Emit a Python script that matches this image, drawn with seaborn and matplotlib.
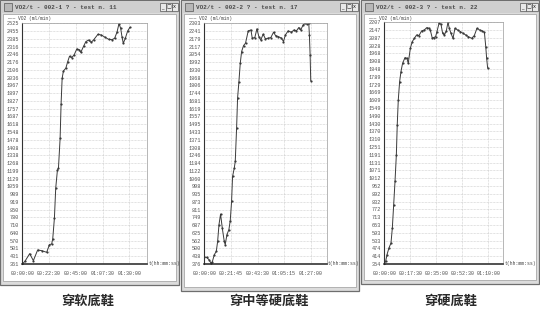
import numpy as np
import pandas as pd
import matplotlib
matplotlib.use("Agg")
import matplotlib.pyplot as plt
from matplotlib.patches import Rectangle
import seaborn as sns

# ---------------- data ----------------
titles = ["VO2/t - 002-1 ? - test n. 11",
          "VO2/t - 002-2 ? - test n. 17",
          "VO2/t - 002-3 ? - test n. 22"]
captions = ["穿软底鞋", "穿中等硬底鞋", "穿硬底鞋"]

xticks1 = ["00:00:00", "00:22:30", "00:45:00", "01:07:30", "01:30:00"]
xticks2 = ["00:00:00", "00:21:45", "00:43:30", "01:05:15", "01:27:00"]
xticks3 = ["00:00:00", "00:17:30", "00:35:00", "00:52:30", "01:10:00"]

yrange1 = (361, 2525)
yrange2 = (376, 2303)
yrange3 = (354, 2207)

# time in minutes, VO2 in ml/min
t1 = [0, 2.2, 6.2, 9.3, 12.9, 16.3, 20.5, 22.8, 24.7, 25.6, 27.0, 28.1, 29.5,
      30.4, 31.8, 32.6, 33.5, 34.6, 36.6, 38.2, 39.7, 41.6, 43.6, 45.8, 47.8,
      49.2, 51.5, 53.4, 55.7, 57.9, 59.9, 63.6, 66.4, 69.2, 72.6, 75.4, 77.6,
      79.6, 81.3, 82.7, 83.8, 84.9, 86.6, 88.6, 90.5]
v1 = [361, 385, 454, 391, 487, 481, 466, 535, 541, 588, 774, 1043, 1202,
      1223, 1492, 1798, 2031, 2097, 2121, 2181, 2229, 2217, 2241, 2294, 2288,
      2264, 2318, 2360, 2375, 2354, 2375, 2426, 2420, 2402, 2381, 2378, 2390,
      2444, 2522, 2480, 2405, 2345, 2390, 2456, 2489]

t2 = [0, 1.9, 3.8, 5.4, 6.5, 8.2, 9.8, 10.9, 12.0, 13.3, 14.7, 16.3, 17.1,
      18.5, 20.1, 21.2, 22.3, 23.1, 24.5, 25.3, 26.4, 27.2, 28.3, 29.4, 30.5,
      32.1, 33.7, 35.9, 38.1, 39.2, 41.3, 43.0, 44.6, 46.2, 48.1, 50.0, 52.2,
      54.4, 56.6, 58.2, 60.4, 63.1, 64.7, 66.3, 68.5, 71.2, 73.4, 75.3, 77.2,
      78.8, 80.8, 82.7, 84.3, 85.4, 85.9, 86.5, 87.0]
v2 = [432, 429, 411, 384, 392, 451, 477, 557, 691, 776, 664, 557, 531,
      611, 651, 723, 877, 1077, 1144, 1197, 1464, 1704, 1837, 1984, 2077,
      2125, 2144, 2242, 2250, 2184, 2189, 2258, 2197, 2170, 2216, 2178, 2184,
      2189, 2232, 2205, 2197, 2184, 2157, 2210, 2242, 2232, 2250, 2242, 2269,
      2250, 2290, 2303, 2295, 2303, 2210, 2050, 1842]

t3 = [0, 0.9, 1.8, 3.1, 4.5, 5.4, 6.3, 7.2, 8.1, 8.7, 9.4, 10.3, 11.2, 12.3,
      13.9, 15.2, 16.1, 17.5, 18.8, 20.2, 21.7, 23.3, 25.1, 26.9, 28.5, 30.0,
      30.9, 32.3, 33.2, 34.5, 35.4, 36.8, 38.1, 39.2, 40.4, 41.7, 42.8, 43.7,
      44.8, 46.2, 47.5, 49.3, 51.1, 52.9, 54.7, 56.5, 58.7, 60.5, 62.3, 64.1,
      65.9, 67.3, 68.2, 68.8, 69.5]
v3 = [354, 374, 425, 476, 515, 630, 808, 987, 1191, 1421, 1612, 1752, 1829,
      1893, 1936, 1931, 1893, 2008, 2059, 2084, 2110, 2105, 2141, 2148, 2166,
      2161, 2148, 2084, 2090, 2097, 2136, 2199, 2192, 2123, 2110, 2141, 2207,
      2161, 2123, 2084, 2161, 2148, 2136, 2123, 2110, 2097, 2084, 2105, 2161,
      2148, 2141, 2130, 2021, 1931, 1855]

# ---------------- layout helpers ----------------
W, H = 540, 317
sns.set_style("white")
plt.rcParams['font.family'] = ['Liberation Mono', 'DejaVu Sans Mono']

fig = plt.figure(figsize=(W / 100, H / 100), dpi=100)
fig.patch.set_facecolor("white")


def fx(px):
    return px / W


def fy(py):
    return 1 - py / H


def rect(x0, y0, x1, y1, z=-5, **kw):
    r = Rectangle((fx(x0), fy(y1)), (x1 - x0) / W, (y1 - y0) / H,
                  transform=fig.transFigure, zorder=z, **kw)
    fig.add_artist(r)
    return r


def to_min(s):
    h, m, sec = [int(p) for p in s.split(":")]
    return h * 60 + m + sec / 60


windows = [(0, 0, 179, 285), (181, 0, 359, 291), (361, 0, 539, 284)]
axes_px = [(22.3, 23.3, 147, 264), (204.3, 23.3, 326.7, 264), (384.3, 22.3, 503, 264)]
caption_x = [88, 269, 451]
xmax_factor = [1.165, 1.15, 1.14]

data = [(t1, v1, xticks1, yrange1), (t2, v2, xticks2, yrange2), (t3, v3, xticks3, yrange3)]

for i in range(3):
    x0, y0, x1, y1 = windows[i]
    # window frame
    rect(x0, y0, x1, y1, z=-10, facecolor="#dcdcdc", edgecolor="#6e6e6e", lw=0.9)
    rect(x0 + 3, y0 + 14, x1 - 3, y1 - 4, z=-9, facecolor="white", edgecolor="#9a9a9a", lw=0.5)
    # title bar
    rect(x0 + 1, y0 + 1, x1 - 1, y0 + 13, z=-9, facecolor="#cfcfcf", edgecolor="none")
    rect(x0 + 4, y0 + 3, x0 + 12, y0 + 11, z=-8, facecolor="#b8b8b8", edgecolor="#555555", lw=0.5)
    fig.text(fx(x0 + 15), fy(y0 + 7.5), titles[i], fontsize=4.3, color="#4a4a4a",
             ha="left", va="center", fontweight="bold")
    for k, g in enumerate(["_", "□", "x"]):
        bx = x1 - 19 + k * 6
        rect(bx, y0 + 3, bx + 5.5, y0 + 11, z=-8, facecolor="#e8e8e8", edgecolor="#555555", lw=0.5)
        fig.text(fx(bx + 2.75), fy(y0 + 7), g, fontsize=3.6, color="#222222",
                 ha="center", va="center", family=["DejaVu Sans"])
    # legend label
    fig.text(fx(x0 + 7), fy(y0 + 18.5), "\u2014\u00b7\u2014 VO2 (ml/min)", fontsize=3.3,
             color="#444444", ha="left", va="center")

    # axes
    l, t, r, b = axes_px[i]
    ax = fig.add_axes([fx(l), fy(b), (r - l) / W, (b - t) / H])
    ax.set_facecolor("white")
    tt, vv, xt, (ymin, ymax) = data[i]
    df = pd.DataFrame({"t": tt, "vo2": vv})
    sns.lineplot(data=df, x="t", y="vo2", ax=ax, color="#3a3a3a", lw=0.7,
                 marker="o", markersize=1.6, markeredgewidth=0, sort=False)
    xpos = [to_min(s) for s in xt]
    ax.set_xlim(0, xpos[-1] * xmax_factor[i])
    ax.set_ylim(ymin, ymax)
    ax.set_xticks(xpos)
    ax.set_xticklabels(xt)
    yt = np.linspace(ymin, ymax, 32)
    ax.set_yticks(yt)
    ax.set_yticklabels([f"{int(round(y))}" for y in yt])
    ax.set_xlabel("")
    ax.set_ylabel("")
    ax.grid(True, linestyle=(0, (1.2, 1.4)), color="#b4b4b4", lw=0.4)
    ax.tick_params(axis="y", labelsize=3.7, length=1.5, width=0.4, pad=1, colors="#505050")
    ax.tick_params(axis="x", labelsize=3.6, length=2, width=0.4, pad=3, colors="#505050")
    for side in ["top", "right"]:
        ax.spines[side].set_color("#9a9a9a")
        ax.spines[side].set_linewidth(0.5)
    ax.spines["left"].set_color("#333333")
    ax.spines["left"].set_linewidth(0.8)
    ax.spines["bottom"].set_color("#222222")
    ax.spines["bottom"].set_linewidth(1.1)
    ax.text(1.01, 0.0, "t(hh:mm:ss)", transform=ax.transAxes, fontsize=3.4,
            color="#444444", ha="left", va="center", clip_on=False)

    # caption
    fig.text(fx(caption_x[i]), fy(301), captions[i], fontsize=9.5, color="#2a2a2a",
             ha="center", va="center", family=["Noto Sans CJK SC", "DejaVu Sans"],
             fontweight="bold")

fig.savefig("out.png", dpi=100)
